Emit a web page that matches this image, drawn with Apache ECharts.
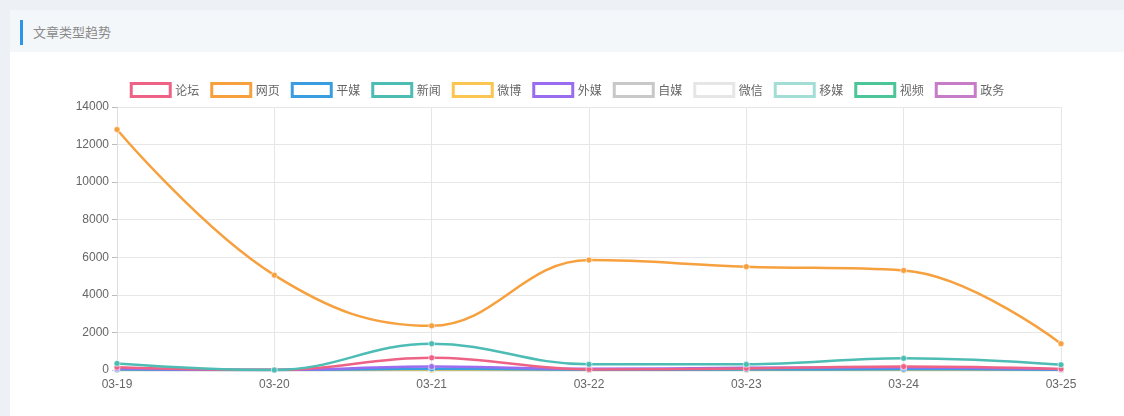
<!DOCTYPE html>
<html><head><meta charset="utf-8">
<script src="https://cdn.jsdelivr.net/npm/echarts@6/dist/echarts.min.js"></script>
<style>
html,body{margin:0;padding:0;width:1124px;height:416px;overflow:hidden;background:#edf1f5;font-family:"Microsoft YaHei","Noto Sans CJK SC",sans-serif;}
#panel{position:absolute;left:10px;top:10px;width:1120px;height:420px;background:#fff;}
#head{position:absolute;left:0;top:0;width:100%;height:42px;background:#f4f7fa;}
#bar{position:absolute;left:10px;top:10px;width:3px;height:25px;background:#2d95e6;}
#title{position:absolute;left:23px;top:12px;font-size:13px;color:#8a8a8a;line-height:20px;}
#chart{position:absolute;left:10px;top:52px;width:1114px;height:364px;}
</style></head>
<body>
<div id="panel"><div id="head"><div id="bar"></div><div id="title">文章类型趋势</div></div></div>
<div id="chart"></div>
<script>
var categories = ['03-19','03-20','03-21','03-22','03-23','03-24','03-25'];
var seriesNames = ['论坛','网页','平媒','新闻','微博','外媒','自媒','微信','移媒','视频','政务'];
var colors = ['#ee6385','#f6a03e','#3a9de0','#4dbcb4','#fbc552','#9a6cf0','#c8c8c8','#e6e6e6','#a2ded6','#4cc698','#c67cc6'];
var luntan = [150, 0, 650, 30, 80, 180, 50];
var wangye = [12800, 5050, 2350, 5850, 5500, 5300, 1400];
var pingmei = [30, 0, 60, 10, 20, 40, 10];
var xinwen = [350, 0, 1400, 300, 300, 620, 280];
var weibo = [0, 0, 0, 0, 0, 0, 0];
var waimei = [80, 0, 180, 60, 120, 130, 40];
var zimei = [0, 0, 0, 0, 0, 0, 0];
var weixin = [0, 0, 0, 0, 0, 0, 0];
var yimei = [0, 0, 0, 0, 0, 0, 0];
var shipin = [0, 0, 0, 0, 0, 0, 0];
var zhengwu = [0, 0, 10, 0, 0, 60, 0];
var yTicks = [0, 2000, 4000, 6000, 8000, 10000, 12000, 14000];
var allData = [luntan, wangye, pingmei, xinwen, weibo, waimei, zimei, weixin, yimei, shipin, zhengwu];

var chart = echarts.init(document.getElementById('chart'));
var drawOrder = [10,9,8,7,6,4,2,5,0,3,1];
var series = drawOrder.map(function(i){
  return {
    name: seriesNames[i], type: 'line', smooth: 0.4, smoothMonotone: 'none', data: allData[i],
    symbol: 'circle', symbolSize: 6, showSymbol: true,
    lineStyle: {width: 2.5, color: colors[i]},
    itemStyle: {color: colors[i], borderColor: 'rgba(255,255,255,0.6)', borderWidth: 1},
    z: 2 + drawOrder.indexOf(i)
  };
});
chart.setOption({
  animation: false,
  color: colors,
  legend: {
    data: seriesNames.map(function(n, i){ return {name: n, icon: 'rect', itemStyle: {color: '#fff', borderColor: colors[i], borderWidth: 3}}; }),
    top: 25, left: 'center', itemWidth: 39, itemHeight: 13, itemGap: 11,
    textStyle: {color: '#666', fontSize: 12, fontFamily: 'Microsoft YaHei, Noto Sans CJK SC, sans-serif'}
  },
  grid: {left: 107, right: 63, top: 55, bottom: 46},
  xAxis: {
    type: 'category', data: categories, boundaryGap: false,
    axisLine: {lineStyle: {color: '#ddd'}}, axisTick: {show: false},
    axisLabel: {color: '#666', fontSize: 12, margin: 9},
    splitLine: {show: true, lineStyle: {color: '#e6e6e6'}}
  },
  yAxis: {
    type: 'value', min: 0, max: 14000, interval: 2000,
    axisLine: {show: true, lineStyle: {color: '#ddd'}},
    axisTick: {show: true, length: 5, lineStyle: {color: '#bbb'}},
    axisLabel: {color: '#666', fontSize: 12, margin: 8, formatter: function(v){ return yTicks.indexOf(v) >= 0 ? String(v) : ''; }},
    splitLine: {lineStyle: {color: '#e6e6e6'}}
  },
  series: series
});
</script>
</body></html>
